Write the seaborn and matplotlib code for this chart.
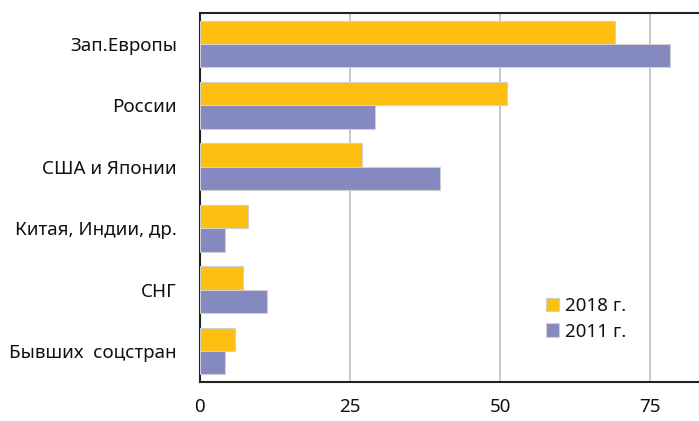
import pandas as pd
import matplotlib
matplotlib.use("Agg")
import matplotlib.pyplot as plt
import seaborn as sns

# data
regions = ['Зап.Европы', 'России', 'США и Японии', 'Китая, Индии, др.', 'СНГ', 'Бывших  соцстран']
values_2018 = [69.1, 51.1, 27.0, 8.0, 7.1, 5.9]
values_2011 = [78.2, 29.1, 40.0, 4.2, 11.2, 4.1]
years = ['2018 г.', '2011 г.']
ticks = [0, 25, 50, 75]

df = pd.DataFrame({
    'region': regions * 2,
    'value': values_2018 + values_2011,
    'year': [years[0]] * len(regions) + [years[1]] * len(regions),
})

sns.set_style('white')
plt.rcParams['font.family'] = ['Noto Sans', 'DejaVu Sans']
plt.rcParams['text.color'] = '#111111'
plt.rcParams['xtick.color'] = '#111111'
plt.rcParams['ytick.color'] = '#111111'

fig = plt.figure(figsize=(6.99, 4.21), dpi=100)
ax = fig.add_axes([0.286, 0.0934, 0.714, 0.8749])

palette = {years[0]: '#FDC010', years[1]: '#8489C0'}
sns.barplot(data=df, x='value', y='region', hue='year', order=regions,
            hue_order=years, palette=palette, orient='h', width=0.76,
            edgecolor='#D0D0D0', linewidth=0.8, saturation=1, ax=ax, zorder=3)

ax.set_xlim(0, 83.1)
ax.set_ylim(5.5, -0.5)
ax.set_xticks(ticks)
ax.set_xlabel('')
ax.set_ylabel('')
ax.grid(axis='x', color='#BFBFBF', linewidth=1.2, zorder=0)
ax.set_axisbelow(True)

for side in ['top', 'left', 'bottom']:
    ax.spines[side].set_color('#222222')
    ax.spines[side].set_linewidth(1.5)
ax.spines['right'].set_visible(False)

ax.tick_params(axis='x', direction='inout', length=10, width=1.2, color='#444444',
               labelsize=13.5, pad=7)
ax.tick_params(axis='y', length=0, labelsize=13.5, pad=16.5)

ax.legend(loc='upper left', bbox_to_anchor=(0.678, 0.25), frameon=False,
          fontsize=13.5, handlelength=0.7, handleheight=0.7, handletextpad=0.35,
          labelspacing=0.4, borderaxespad=0)

fig.savefig('out.png', dpi=100)
